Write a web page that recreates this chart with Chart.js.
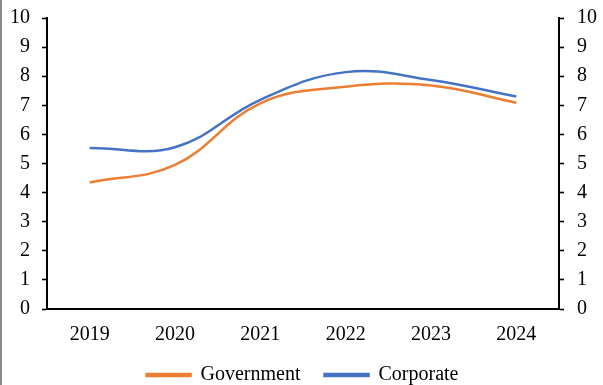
<!DOCTYPE html>
<html>
<head>
<meta charset="utf-8">
<script src="https://cdn.jsdelivr.net/npm/chart.js@4/dist/chart.umd.min.js"></script>
<style>
  html, body { margin: 0; padding: 0; background: #fff; }
  .wrap { width: 603px; height: 385px; box-sizing: border-box; border-left: 2px solid #8a8a8a; position: relative; }
</style>
</head>
<body>
<div class="wrap"><canvas id="yieldChart"></canvas></div>
<script>
const years = ['2019', '2020', '2021', '2022', '2023', '2024'];
const government = [4.35, 4.95, 7.07, 7.64, 7.68, 7.09];
const corporate = [5.53, 5.56, 7.19, 8.14, 7.87, 7.30];
const yMin = 0;
const yMax = 10;

const serif = "'Liberation Serif', 'Times New Roman', serif";

const valueAxis = (position, width, pad) => ({
    position: position,
    min: yMin,
    max: yMax,
    ticks: { stepSize: 1, color: '#000', font: { family: serif, size: 20 }, padding: pad },
    grid: { drawOnChartArea: false, drawTicks: true, tickLength: 5, tickWidth: 1.6, tickColor: '#000' },
    border: { display: true, color: '#000', width: 2 },
    afterFit: function (scale) {
        scale.width = width;
        // let layout.padding.top decide where the plot starts
        scale.paddingTop = 0;
    }
});

new Chart(document.getElementById('yieldChart').getContext('2d'), {
    type: 'line',
    data: {
        labels: years,
        datasets: [{
            label: 'Government',
            data: government,
            borderColor: '#ED7D31',
            backgroundColor: '#ED7D31',
            borderWidth: 2.5,
            pointRadius: 0,
            tension: 0.4,
            fill: false,
            yAxisID: 'y'
        }, {
            label: 'Corporate',
            data: corporate,
            borderColor: '#4472C4',
            backgroundColor: '#4472C4',
            borderWidth: 2.5,
            pointRadius: 0,
            tension: 0.4,
            fill: false,
            yAxisID: 'y'
        }]
    },
    options: {
        responsive: true,
        maintainAspectRatio: false,
        animation: false,
        // legend sits low, close to the bottom edge
        layout: { padding: { top: 18, left: 0, right: 0, bottom: -10 } },
        plugins: {
            tooltip: { enabled: false },
            legend: {
                position: 'bottom',
                labels: {
                    color: '#000',
                    font: { family: serif, size: 20 },
                    boxWidth: 44,
                    boxHeight: 2,
                    padding: 24
                }
            }
        },
        scales: {
            x: {
                offset: true,
                ticks: { color: '#000', font: { family: serif, size: 20 }, padding: 14 },
                grid: { display: false, drawTicks: false },
                border: { display: true, color: '#000', width: 2 },
                afterFit: function (scale) { scale.height = 32; }
            },
            y: valueAxis('left', 45, 12),
            y2: valueAxis('right', 44, 13)
        }
    }
});
</script>
</body>
</html>
